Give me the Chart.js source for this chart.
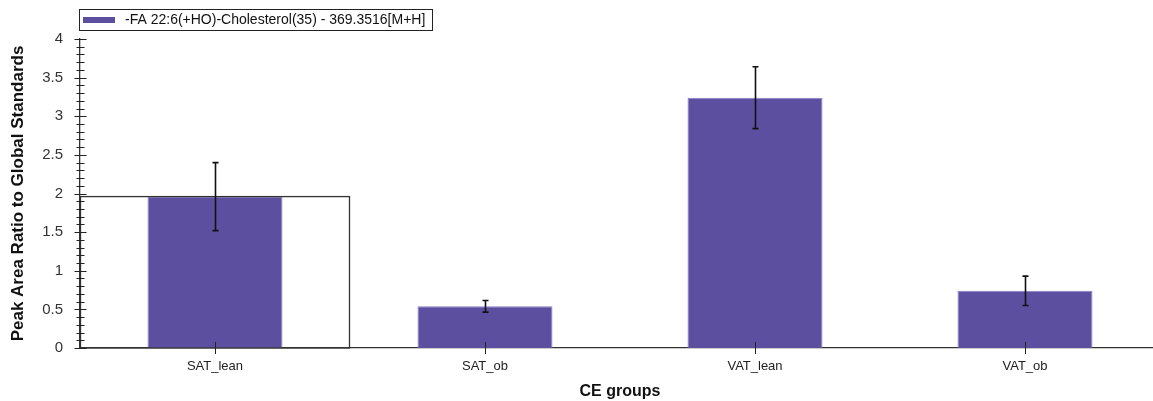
<!DOCTYPE html>
<html>
<head>
<meta charset="utf-8">
<script src="https://cdn.jsdelivr.net/npm/chart.js@4/dist/chart.umd.min.js"></script>
<style>
  html, body { margin: 0; padding: 0; background: #fff; overflow: hidden; }
  #wrap { width: 1160px; height: 401px; position: relative; }
</style>
</head>
<body>
<div id="wrap"><canvas id="c"></canvas></div>
<script>
const categories = ["SAT_lean", "SAT_ob", "VAT_lean", "VAT_ob"];
const seriesLabel = "-FA 22:6(+HO)-Cholesterol(35) - 369.3516[M+H]";
const values = [1.96, 0.54, 3.24, 0.74];
const errors = [0.44, 0.075, 0.40, 0.19];
const yTicks = [0, 0.5, 1, 1.5, 2, 2.5, 3, 3.5, 4];
const xTitle = "CE groups";
const yTitle = "Peak Area Ratio to Global Standards";

const FONT = "'Liberation Sans', Arial, sans-serif";
const BAR_COLOR = "#5c4fa0";

const decorPlugin = {
  id: 'decor',
  afterDatasetsDraw(chart) {
    const ctx = chart.ctx;
    const xs = chart.scales.x, ys = chart.scales.y;
    const area = chart.chartArea;
    ctx.save();
    // highlight box around first category
    const catW = xs.width / categories.length;
    const cx0 = xs.getPixelForValue(0);
    const top0 = ys.getPixelForValue(values[0]);
    ctx.strokeStyle = '#333';
    ctx.lineWidth = 1.3;
    ctx.strokeRect(cx0 - catW / 2 + 0.5, top0, catW - 1, area.bottom - top0);
    // error bars
    ctx.strokeStyle = '#111';
    ctx.lineWidth = 1.6;
    values.forEach((v, i) => {
      const x = Math.round(xs.getPixelForValue(i)) + 0.5;
      const yt = ys.getPixelForValue(v + errors[i]);
      const yb = ys.getPixelForValue(v - errors[i]);
      ctx.beginPath();
      ctx.moveTo(x, yt); ctx.lineTo(x, yb);
      ctx.moveTo(x - 3, yt); ctx.lineTo(x + 3, yt);
      ctx.moveTo(x - 3, yb); ctx.lineTo(x + 3, yb);
      ctx.stroke();
    });
    // x tick marks crossing the axis
    ctx.strokeStyle = '#222';
    ctx.lineWidth = 1;
    categories.forEach((c, i) => {
      const x = Math.round(xs.getPixelForValue(i)) + 0.5;
      ctx.beginPath();
      ctx.moveTo(x, area.bottom - 6); ctx.lineTo(x, area.bottom + 6);
      ctx.stroke();
    });
    // y major / minor ticks crossing the axis
    const ax = Math.round(area.left) + 0.5;
    yTicks.forEach(t => {
      const y = Math.round(ys.getPixelForValue(t)) + 0.5;
      ctx.beginPath();
      ctx.moveTo(ax - 6, y); ctx.lineTo(ax + 6, y);
      ctx.stroke();
    });
    for (let k = 0; k <= 40; k++) {
      if (k % 5 === 0) continue;
      const y = Math.round(ys.getPixelForValue(k / 10)) + 0.5;
      ctx.beginPath();
      ctx.moveTo(ax - 4, y); ctx.lineTo(ax + 4, y);
      ctx.stroke();
    }
    ctx.restore();
  },
  afterDraw(chart) {
    const ctx = chart.ctx;
    ctx.save();
    // legend box
    ctx.strokeStyle = '#222';
    ctx.lineWidth = 1;
    ctx.strokeRect(79.5, 9.5, 353, 21);
    ctx.fillStyle = BAR_COLOR;
    ctx.fillRect(83, 17, 32, 6);
    ctx.fillStyle = '#111';
    ctx.font = "14px " + FONT;
    ctx.textBaseline = 'middle';
    ctx.textAlign = 'left';
    ctx.fillText(chart.data.datasets[0].label, 125, 20.5);
    ctx.restore();
  }
};

new Chart(document.getElementById('c'), {
  type: 'bar',
  data: {
    labels: categories,
    datasets: [{
      label: seriesLabel,
      data: values,
      backgroundColor: BAR_COLOR,
      borderColor: '#8a7fca',
      borderWidth: 1,
      barPercentage: 0.5,
      categoryPercentage: 1.0
    }]
  },
  options: {
    responsive: true,
    maintainAspectRatio: false,
    animation: false,
    devicePixelRatio: 1,
    layout: { padding: { top: 39, left: 0, right: 0, bottom: 0 } },
    plugins: { legend: { display: false }, tooltip: { enabled: false } },
    scales: {
      x: {
        grid: { display: false, drawTicks: false },
        border: { display: true, color: '#333', width: 1.3 },
        ticks: { color: '#222', font: { family: FONT, size: 13 }, padding: 11, maxRotation: 0 },
        title: { display: true, text: xTitle, color: '#111', font: { family: FONT, size: 16, weight: 'bold', lineHeight: 1.2 }, padding: { top: 0, bottom: 0 } },
        afterFit(s) { s.height = 53; }
      },
      y: {
        min: 0, max: 4,
        afterBuildTicks(s) { s.ticks = yTicks.map(v => ({ value: v })); },
        grid: { display: false, drawTicks: false },
        border: { display: true, color: '#333', width: 1.3 },
        ticks: { color: '#333', font: { family: FONT, size: 15 }, padding: 17, callback: (v) => String(v) },
        title: { display: true, text: yTitle, color: '#111', font: { family: FONT, size: 17, weight: 'bold', lineHeight: 1.2 }, padding: { top: 8, bottom: 0 } },
        afterFit(s) { s.width = 80; }
      }
    }
  },
  plugins: [decorPlugin]
});
</script>
</body>
</html>
